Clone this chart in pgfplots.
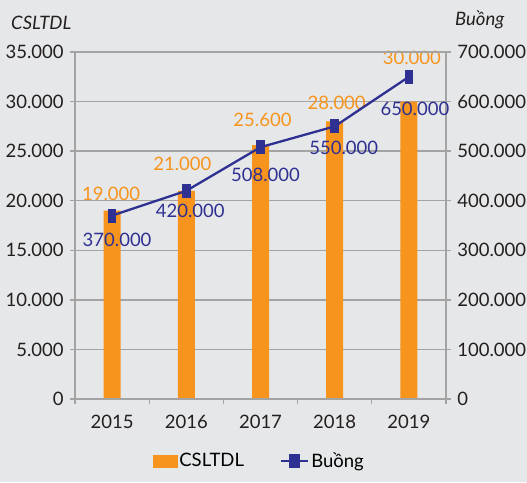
\documentclass[border=0pt]{standalone}
\usepackage{fontspec}
\setmainfont{Lato}
\usepackage{pgfplots}
\usepackage{pgfplotstable}
\pgfplotsset{compat=1.18}
\definecolor{bg}{HTML}{E6E7E8}
\definecolor{barc}{HTML}{F7941D}
\definecolor{linec}{HTML}{2E3192}
\definecolor{gridc}{HTML}{A3A3A3}
\definecolor{txt}{HTML}{231F20}
\newcommand{\fs}{\fontsize{18.5}{22}\selectfont}
\pgfdeclareplotmark{tallsq}{%
  \pgfpathrectangle{\pgfpoint{-4.3pt}{-7pt}}{\pgfpoint{8.6pt}{14pt}}%
  \pgfusepathqfill}
\pgfplotstableread{
x y dx dy
0 19000 -1 17
1 21000 -4 27
2 25600 2 25
3 28000 2 19
4 30000 3 44
}\bars
\pgfplotstableread{
x y dx dy
0 370000 5 -24
1 420000 4 -20.5
2 508000 5 -28
3 550000 9 -22
4 650000 6 -32
}\rooms
\pgfplotsset{
  common/.style={
    at={(75pt,83pt)}, anchor=south west,
    scale only axis, width=371pt, height=347pt,
    xmin=-0.5, xmax=4.5,
    axis line style={gridc, line width=1.3pt},
    tick style={gridc, line width=1.3pt},
    tick align=outside,
    major tick length=5pt, minor tick length=5pt,
    scaled y ticks=false,
    /pgf/number format/.cd, fixed, precision=0, 1000 sep={.}, assume math mode=true,
    /pgfplots/.cd,
    tick label style={font=\fs, text=txt},
  }
}
\begin{document}
\fs
\begin{tikzpicture}[x=1pt,y=1pt]
\fill[bg] (0,0) rectangle (527,482);
\useasboundingbox (0,0) rectangle (527,482);
\node[anchor=west,font=\fs\itshape,text=txt,inner sep=0pt] at (11,459.5) {CSLTDL};
\node[anchor=west,font=\fs\itshape,text=txt,inner sep=0pt] at (455,462) {Buồng};
\begin{axis}[
  common,
  ymin=0, ymax=35000,
  ytick={0,5000,...,35000},
  ytick pos=left,
  xtick={0,1,2,3,4},
  xticklabels={2015,2016,2017,2018,2019},
  xtick pos=bottom,
  major x tick style={draw=none},
  minor xtick={-0.5,0.5,1.5,2.5,3.5,4.5},
  ymajorgrids,
  major grid style={gridc, line width=1.3pt},
  xticklabel style={yshift=-5pt},
]
\addplot[ybar, bar width=17pt, fill=barc, draw=none,
  visualization depends on={\thisrow{dx}\as\ldx},
  visualization depends on={\thisrow{dy}\as\ldy},
  nodes near coords,
  nodes near coords style={text=barc, font=\fs, anchor=center, inner sep=0pt,
    xshift=\ldx pt, yshift=\ldy pt}]
  table[x=x,y=y] {\bars};
\end{axis}
\begin{axis}[
  common,
  ymin=0, ymax=700000,
  ytick={0,100000,...,700000},
  ytick pos=right,
  yticklabel pos=right,
  xtick=\empty,
  legend style={at={(0.497,-0.179)}, anchor=center, draw=none, fill=none,
    legend columns=2, font=\fs,
    /tikz/every even column/.append style={column sep=34pt}},
  legend cell align=left,
]
\addlegendimage{legend image code/.code={\fill[barc] (0pt,-6pt) rectangle (24pt,6pt);}}
\addlegendentry{CSLTDL}
\addplot[linec, line width=2.3pt, mark=tallsq,
  visualization depends on={\thisrow{dx}\as\ldx},
  visualization depends on={\thisrow{dy}\as\ldy},
  nodes near coords,
  nodes near coords style={text=linec, font=\fs, anchor=center, inner sep=0pt,
    xshift=\ldx pt, yshift=\ldy pt},
  legend image code/.code={\draw[linec, line width=2.3pt] (0pt,0pt) -- (27pt,0pt); \fill[linec] (9pt,-5.5pt) rectangle (18pt,5.5pt);}]
  table[x=x,y=y] {\rooms};
\addlegendentry{Buồng}
\end{axis}
\end{tikzpicture}
\end{document}
